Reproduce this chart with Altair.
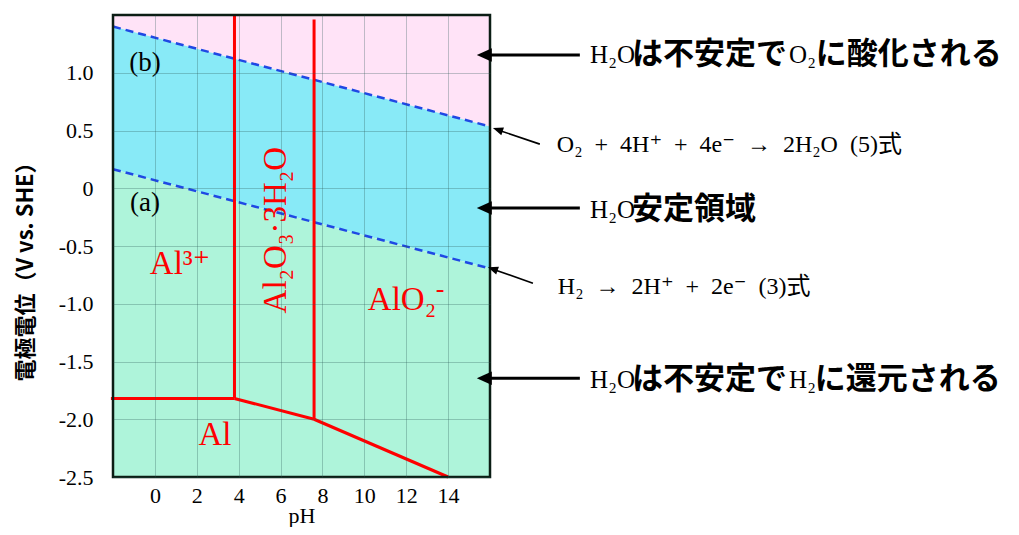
import altair as alt
import pandas as pd

# ---------------- data ----------------
PH_EDGE = [-2.0, 16.0]
E_TOP = [1.5, 1.5]
E_BOTTOM = [-2.5, -2.5]
O2_LINE = [1.40, 0.535]     # line (b): E at pH -2 and 16
H2_LINE = [0.165, -0.695]   # line (a): E at pH -2 and 16

# Al boundaries (segments)
AL_X1 = [-2.1, 3.8, 7.6, 3.8, 7.6]
AL_Y1 = [-1.82, -1.82, -2.0, -1.82, -2.0]
AL_X2 = [3.8, 3.8, 7.6, 7.6, 14.0]
AL_Y2 = [-1.82, 1.5, 1.46, -2.0, -2.5]

# region labels
LBL_TEXT = ["(b)", "(a)", "Al³⁺", "AlO₂", "Al"]
LBL_PH = [-0.47, -0.47, 1.2, 11.8, 2.87]
LBL_E = [1.084, -0.129, -0.658, -0.97, -2.14]
LBL_COLOR = ["black", "black", "red", "red", "red"]
SUP_TEXT = ["-"]
SUP_PH = [13.62]
SUP_E = [-0.875]
ROT_TEXT = ["Al₂O₃·3H₂O"]
ROT_PH = [5.78]
ROT_E = [-0.363]

# annotations (in pH / E units)
THICK_TAIL_PH = [20.29, 20.29, 20.29]
THICK_END_PH = [15.8, 15.8, 15.8]
THICK_TIP_PH = [15.37, 15.37, 15.37]
THICK_E = [1.153, -0.172, -1.646]

THIN_TAIL_PH = [18.38, 18.05]
THIN_TAIL_E = [0.382, -0.822]
THIN_END_PH = [16.45, 16.21]
THIN_END_E = [0.501, -0.705]
THIN_TIP_PH = [16.14, 15.90]
THIN_TIP_E = [0.521, -0.684]
THIN_ANGLE = [288.8, 289.6]

SEG_TEXT = ["H₂O", "は不安定で", "O₂", "に酸化される",
            "H₂O", "安定領域",
            "H₂O", "は不安定で", "H₂", "に還元される"]
SEG_PH = [20.78, 22.78, 30.28, 31.55,
          20.78, 22.78,
          20.78, 22.78, 30.28, 31.5]
SEG_E = [1.153, 1.153, 1.153, 1.153,
         -0.19, -0.19,
         -1.663, -1.663, -1.663, -1.663]
SEG_STYLE = ["serif", "jp", "serif", "jp",
             "serif", "jp",
             "serif", "jp", "serif", "jp"]

EN = "\u2002"
EQ_TEXT = [f"O₂{EN}+{EN}4H⁺{EN}+{EN}4e⁻{EN}→{EN}2H₂O{EN}(5)式",
           f"H₂{EN}→{EN}2H⁺{EN}+{EN}2e⁻{EN}(3)式"]
EQ_PH = [19.19, 19.24]
EQ_E = [0.3735, -0.857]

X_TICKS = [0, 2, 4, 6, 8, 10, 12, 14]
Y_TICKS = [-2.5, -2.0, -1.5, -1.0, -0.5, 0.0, 0.5, 1.0]

PINK = "#FFE3F7"
CYAN = "#88EAF7"
GREEN = "#AEF4DA"
BLUE = "#1F48E4"
RED = "#FF0000"
SERIF = "Liberation Serif, DejaVu Serif, Noto Sans CJK JP"
JP = "Noto Sans CJK JP"

# ---------------- scales / axes ----------------
xs = alt.Scale(domain=[-2, 16], nice=False, zero=False)
ys = alt.Scale(domain=[-2.5, 1.5], nice=False, zero=False)

xaxis = alt.Axis(values=X_TICKS, title="pH", grid=True, ticks=False, domain=False,
                 labelFont=SERIF, labelFontSize=22, labelColor="black", labelPadding=8,
                 labelFlush=False,
                 titleFont=SERIF, titleFontSize=22, titleFontWeight="normal",
                 titleColor="black", titleY=45, titleBaseline="alphabetic",
                 gridColor="#2b5a55", gridOpacity=0.3, gridWidth=1, zindex=1)
yaxis = alt.Axis(values=Y_TICKS, title="電極電位（V vs. SHE）", grid=True, ticks=False,
                 domain=False, labelFont=SERIF, labelFontSize=22, labelColor="black",
                 labelPadding=20, labelFlush=False,
                 labelExpr="datum.value == 0 ? '0' : replace(format(datum.value, '.1f'), '\u2212', '-')",
                 titleFont=JP, titleFontSize=22, titleFontWeight="bold", titleColor="black",
                 titleAngle=270, titleX=-88, titleY=251, titleBaseline="middle",
                 gridColor="#2b5a55", gridOpacity=0.3, gridWidth=1, zindex=1)


def X(f):
    return alt.X(f"{f}:Q", scale=xs, axis=xaxis)


def Y(f):
    return alt.Y(f"{f}:Q", scale=ys, axis=yaxis)


# ---------------- tables ----------------
bands = pd.DataFrame({"pH": PH_EDGE, "upper": O2_LINE, "lower": H2_LINE,
                      "top": E_TOP, "bottom": E_BOTTOM})
water = pd.DataFrame({"pH": PH_EDGE * 2, "E": O2_LINE + H2_LINE,
                      "line": ["b", "b", "a", "a"]})
al = pd.DataFrame({"pH": AL_X1, "E": AL_Y1, "pH2": AL_X2, "E2": AL_Y2})
lbl = pd.DataFrame({"pH": LBL_PH, "E": LBL_E, "t": LBL_TEXT, "c": LBL_COLOR})
sup = pd.DataFrame({"pH": SUP_PH, "E": SUP_E, "t": SUP_TEXT})
rot = pd.DataFrame({"pH": ROT_PH, "E": ROT_E, "t": ROT_TEXT})
frame = pd.DataFrame({"pH": [PH_EDGE[0]], "pH2": [PH_EDGE[1]],
                      "E": [E_BOTTOM[0]], "E2": [E_TOP[0]]})
thick = pd.DataFrame({"pH": THICK_TAIL_PH, "pH2": THICK_END_PH, "E": THICK_E,
                      "tip": THICK_TIP_PH})
thin = pd.DataFrame({"pH": THIN_TAIL_PH, "E": THIN_TAIL_E, "pH2": THIN_END_PH,
                     "E2": THIN_END_E, "tph": THIN_TIP_PH, "te": THIN_TIP_E,
                     "ang": THIN_ANGLE})
seg = pd.DataFrame({"pH": SEG_PH, "E": SEG_E, "t": SEG_TEXT, "s": SEG_STYLE})
eq = pd.DataFrame({"pH": EQ_PH, "E": EQ_E, "t": EQ_TEXT})

HEAD = "M0,0 L0.45,1 L-0.45,1 Z"

# ---------------- layers ----------------
pink = alt.Chart(bands).mark_area(color=PINK).encode(x=X("pH"), y=Y("upper"), y2="top:Q")
cyan = alt.Chart(bands).mark_area(color=CYAN).encode(x=X("pH"), y=Y("lower"), y2="upper:Q")
green = alt.Chart(bands).mark_area(color=GREEN).encode(x=X("pH"), y=Y("bottom"), y2="lower:Q")

dash = alt.Chart(water).mark_line(color=BLUE, strokeWidth=2.5, strokeDash=[8, 5]).encode(
    x=X("pH"), y=Y("E"), detail="line:N")

alines = alt.Chart(al).mark_rule(color=RED, strokeWidth=3).encode(
    x=X("pH"), y=Y("E"), x2="pH2:Q", y2="E2:Q")

labels = alt.Chart(lbl).mark_text(font=SERIF, fontSize=33, align="center",
                                  baseline="middle").encode(
    x=X("pH"), y=Y("E"), text="t:N", color=alt.Color("c:N", scale=None))
labels_ab = labels.transform_filter("datum.c == 'black'").mark_text(
    font=SERIF, fontSize=27, align="center", baseline="middle")
labels_red = labels.transform_filter("datum.c == 'red'")

sups = alt.Chart(sup).mark_text(font=SERIF, fontSize=26, align="center",
                                baseline="middle", color=RED).encode(
    x=X("pH"), y=Y("E"), text="t:N")

rotl = alt.Chart(rot).mark_text(font=SERIF, fontSize=33, angle=270, align="center",
                                baseline="middle", color=RED).encode(
    x=X("pH"), y=Y("E"), text="t:N")

border = alt.Chart(frame).mark_rect(fillOpacity=0, stroke="#0b1d14", strokeWidth=2.5).encode(
    x=X("pH"), x2="pH2:Q", y=Y("E"), y2="E2:Q")

thick_shaft = alt.Chart(thick).mark_rule(color="black", strokeWidth=3).encode(
    x=X("pH"), x2="pH2:Q", y=Y("E"))
thick_head = alt.Chart(thick).mark_point(shape=HEAD, size=900, filled=True, color="black",
                                         opacity=1, angle=270).encode(
    x=X("tip"), y=Y("E"))

thin_shaft = alt.Chart(thin).mark_rule(color="black", strokeWidth=1.6).encode(
    x=X("pH"), x2="pH2:Q", y=Y("E"), y2="E2:Q")
thin_head = alt.Chart(thin).mark_point(shape="M0,0 L0.4,1 L-0.4,1 Z", size=420, filled=True,
                                       color="black", opacity=1).encode(
    x=X("tph"), y=Y("te"), angle=alt.Angle("ang:Q", scale=None))

seg_serif = alt.Chart(seg).transform_filter("datum.s == 'serif'").mark_text(
    font=SERIF, fontSize=25, align="left", baseline="middle", color="black").encode(
    x=X("pH"), y=Y("E"), text="t:N")
seg_jp = alt.Chart(seg).transform_filter("datum.s == 'jp'").mark_text(
    font=JP, fontSize=31, fontWeight="bold", align="left", baseline="middle",
    color="black").encode(x=X("pH"), y=Y("E"), text="t:N")

eqs = alt.Chart(eq).mark_text(font=SERIF, fontSize=24, align="left", baseline="middle",
                              color="black").encode(x=X("pH"), y=Y("E"), text="t:N")

chart = alt.layer(
    pink, cyan, green, dash, alines, labels_ab, labels_red, sups, rotl, border,
    thick_shaft, thick_head, thin_shaft, thin_head, seg_serif, seg_jp, eqs
).properties(
    width=377, height=462,
    autosize=alt.AutoSizeParams(type="none"),
    padding={"left": 105, "top": 7, "right": 520, "bottom": 50},
).configure_view(stroke=None).configure(background="white")

chart.save("out.html", embed_options={"renderer": "svg", "actions": False})
